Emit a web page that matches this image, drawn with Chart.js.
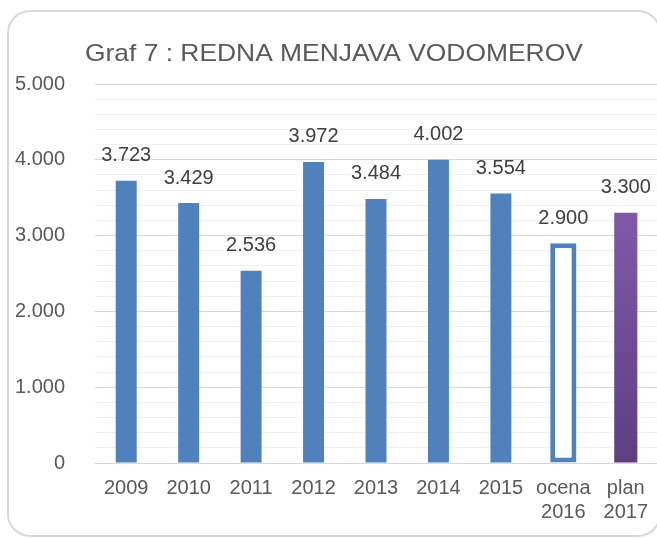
<!DOCTYPE html>
<html>
<head>
<meta charset="utf-8">
<script src="https://cdn.jsdelivr.net/npm/chart.js@4.4.0/dist/chart.umd.min.js"></script>
<style>
    html, body { margin: 0; padding: 0; background: #fff; }
    #wrap { width: 657px; height: 538px; position: relative; }
</style>
</head>
<body>
<div id="wrap"><canvas id="vodomeriChart"></canvas></div>
<script>
const chartTitle = 'Graf 7 : REDNA MENJAVA VODOMEROV';
const categories = ['2009', '2010', '2011', '2012', '2013', '2014', '2015', ['ocena', '2016'], ['plan', '2017']];
const realized = [3723, 3429, 2536, 3972, 3484, 4002, 3554, null, null];   // izvedeno
const estimate = [null, null, null, null, null, null, null, 2900, null];   // ocena
const planned  = [null, null, null, null, null, null, null, null, 3300];   // plan
const yMin = 0;
const yMax = 5000;
const yMajorStep = 1000;
const yMinorStep = 200;

const FONT = '"Liberation Sans", Arial, sans-serif';
const fmt = v => String(v).replace(/\B(?=(\d{3})+(?!\d))/g, '.');

// okvir + naslov
const frameAndTitle = {
    id: 'frameAndTitle',
    beforeDraw(chart) {
        const { ctx } = chart;
        ctx.save();
        ctx.fillStyle = '#fff';
        ctx.fillRect(0, 0, chart.width, chart.height);
        ctx.strokeStyle = '#D9D9D9';
        ctx.lineWidth = 2;
        ctx.beginPath();
        ctx.roundRect(8, 11, 652, 525, 22);
        ctx.stroke();
        ctx.font = '24px ' + FONT;
        ctx.fillStyle = '#595959';
        ctx.textBaseline = 'alphabetic';
        ctx.translate(85, 61);
        ctx.scale(1.1, 1);
        ctx.fillText(chartTitle, 0, 0);
        ctx.restore();
    }
};

// vrednosti nad stolpci
const barValueLabels = {
    id: 'barValueLabels',
    afterDatasetsDraw(chart) {
        const { ctx } = chart;
        ctx.save();
        ctx.font = '20px ' + FONT;
        ctx.fillStyle = '#404040';
        ctx.textAlign = 'center';
        ctx.textBaseline = 'middle';
        chart.data.datasets.forEach((ds, i) => {
            chart.getDatasetMeta(i).data.forEach((bar, j) => {
                const v = ds.data[j];
                if (v == null) return;
                ctx.fillText(fmt(v), bar.x, bar.y - 25);
            });
        });
        ctx.restore();
    }
};

const purpleGradient = (c) => {
    const chart = c.chart;
    const area = chart.chartArea;
    if (!area || c.raw == null) return '#7354A0';
    const top = chart.scales.y.getPixelForValue(c.raw);
    const g = chart.ctx.createLinearGradient(0, top, 0, area.bottom);
    g.addColorStop(0, '#8059A9');
    g.addColorStop(1, '#5D3F81');
    return g;
};

const ctx = document.getElementById('vodomeriChart').getContext('2d');
const vodomeriChart = new Chart(ctx, {
    type: 'bar',
    data: {
        labels: categories,
        datasets: [
            {
                label: 'izvedeno',
                data: realized,
                backgroundColor: '#4F81BD',
                grouped: false,
                categoryPercentage: 1,
                barPercentage: 0.336
            },
            {
                label: 'ocena',
                data: estimate,
                backgroundColor: '#ffffff',
                borderColor: '#4F81BD',
                borderWidth: 5,
                borderSkipped: false,
                grouped: false,
                categoryPercentage: 1,
                barPercentage: 0.42
            },
            {
                label: 'plan',
                data: planned,
                backgroundColor: purpleGradient,
                grouped: false,
                categoryPercentage: 1,
                barPercentage: 0.37
            }
        ]
    },
    options: {
        responsive: true,
        maintainAspectRatio: false,
        animation: false,
        devicePixelRatio: 1,
        layout: {
            padding: { left: 15, top: 84, right: 0, bottom: 14 }
        },
        plugins: {
            legend: { display: false },
            title: { display: false },
            tooltip: { enabled: false }
        },
        scales: {
            x: {
                grid: { display: false, drawTicks: false },
                border: { display: false },
                ticks: {
                    color: '#595959',
                    font: { family: FONT, size: 20 },
                    padding: 13,
                    maxRotation: 0,
                    autoSkip: false
                },
                afterFit: s => {
                    s.height = 61;
                    s.paddingLeft = 0;
                    s.paddingRight = 0;
                }
            },
            y: {
                min: yMin,
                max: yMax,
                border: { display: false },
                grid: {
                    drawTicks: false,
                    lineWidth: 1,
                    color: c => (c.tick && c.tick.value % yMajorStep === 0) ? '#D9D9D9' : '#F0F0F0'
                },
                ticks: {
                    stepSize: yMinorStep,
                    autoSkip: false,
                    padding: 30,
                    color: '#595959',
                    font: { family: FONT, size: 20 },
                    callback: v => (v % yMajorStep === 0) ? fmt(v) : ''
                },
                afterFit: s => { s.width = 80; }
            }
        }
    },
    plugins: [frameAndTitle, barValueLabels]
});
</script>
</body>
</html>
